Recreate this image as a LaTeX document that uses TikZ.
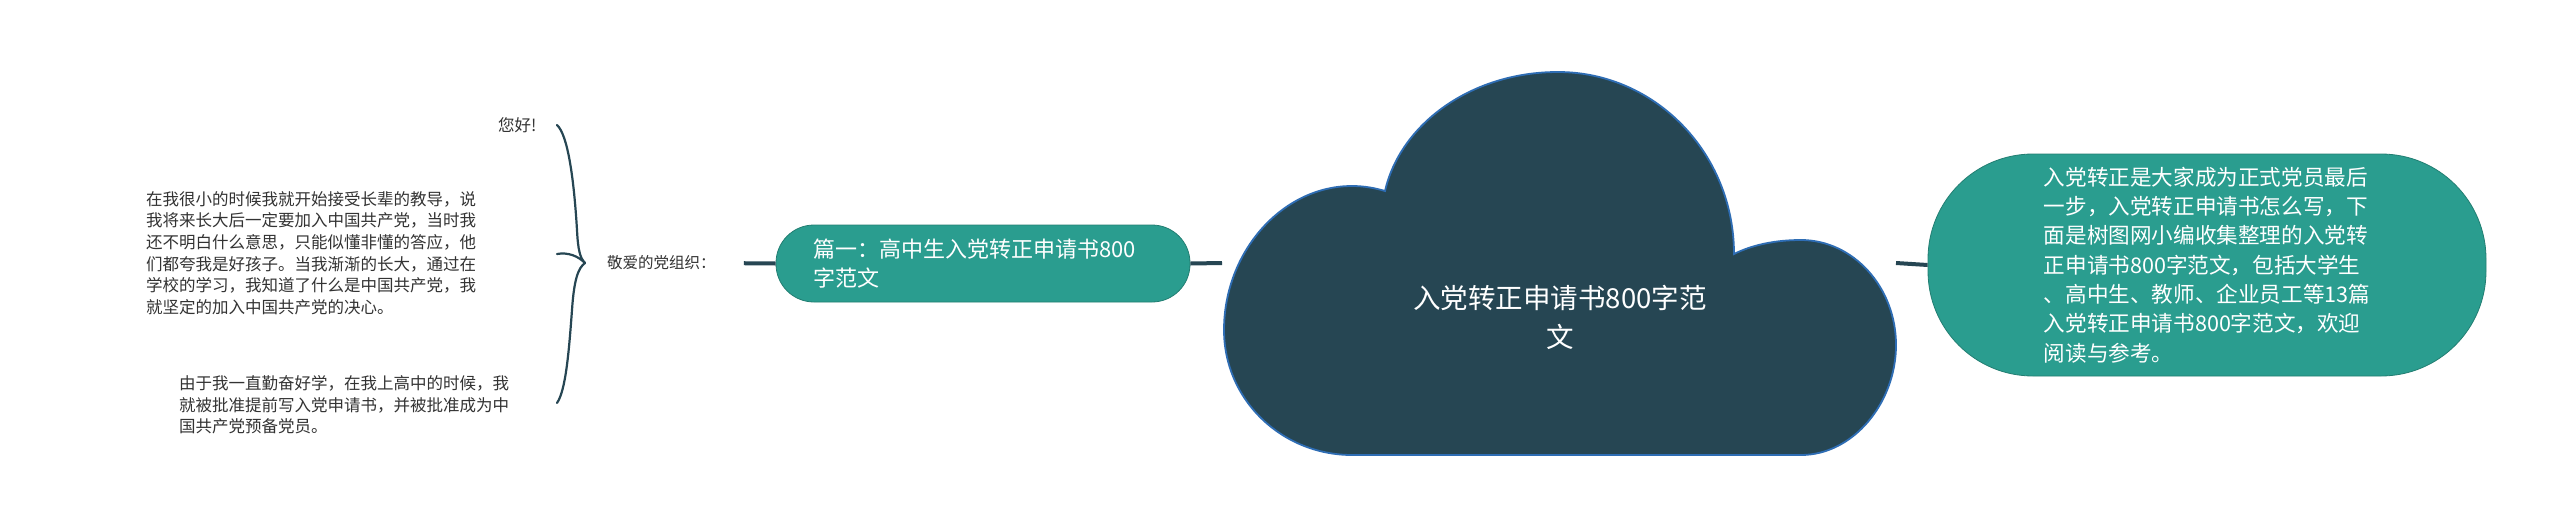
\documentclass[tikz,border=0pt]{standalone}
\usepackage{fontspec}
\setmainfont{Noto Sans CJK SC}
\definecolor{cloudc}{HTML}{264653}
\definecolor{tealc}{HTML}{2A9D8F}
\definecolor{edgeblue}{HTML}{2E6DB4}
\definecolor{txtgray}{HTML}{333333}
\tikzset{
  conn/.style={draw=cloudc, line width=4pt},
  pill/.style={fill=tealc, draw=tealc!80!black, line width=0.8pt, text=white, align=left},
  small/.style={text=txtgray, inner sep=0pt, align=left, font=\fontsize{16.5}{21.6}\selectfont},
}
\begin{document}
\begin{tikzpicture}[x=1pt,y=-1pt]
\useasboundingbox[fill=white] (0,0) rectangle (2560,528);
% cloud
\draw[fill=cloudc, draw=edgeblue, line width=1.8pt]
  (1352,455) .. controls (1282,455) and (1224,400) .. (1224,330)
  .. controls (1224,252) and (1282,186) .. (1352,186)
  .. controls (1364,186) and (1375,188) .. (1385,191)
  .. controls (1400,125) and (1470,72) .. (1558,72)
  .. controls (1655,72) and (1734,153) .. (1734,254)
  .. controls (1752,245) and (1775,240) .. (1801,240)
  .. controls (1853,240) and (1896,287) .. (1896,345)
  .. controls (1896,403) and (1853,455) .. (1801,455)
  -- cycle;
\node (center) [text=white, align=center, inner sep=0pt, font=\fontsize{27.5}{39}\selectfont] at (1560,317) {入党转正申请书800字范\\文};
\coordinate (cloudL) at (1222,263);
\coordinate (cloudR) at (1896,263);
% right node
\node (intro) [pill, rounded corners=105pt, minimum width=558pt, minimum height=222pt, inner sep=0pt,
  font=\fontsize{21.6}{29.3}\selectfont] at (2207,265)
  {入党转正是大家成为正式党员最后\\一步，入党转正申请书怎么写，下\\面是树图网小编收集整理的入党转\\正申请书800字范文，包括大学生\\、高中生、教师、企业员工等13篇\\入党转正申请书800字范文，欢迎\\阅读与参考。};
% left node
\node (pian) [pill, rounded corners=38pt, minimum width=414pt, minimum height=77pt, inner sep=0pt,
  text width=340pt, font=\fontsize{22}{29}\selectfont] at (983,263.5)
  {篇一：高中生入党转正申请书800\\字范文};
\node (jing) [small, anchor=west, font=\fontsize{15.5}{20}\selectfont] at (607,263) {敬爱的党组织：};
% connectors
\draw[conn] (cloudR) -- (intro.west);
\draw[conn] (pian.east) -- (cloudL);
\draw[conn, shorten <=28pt] (jing.east) -- (pian.west);
% leaf texts
\node (hello) [small, anchor=west] at (498,125) {您好!};
\node (para1) [small, anchor=west] at (146,253)
  {在我很小的时候我就开始接受长辈的教导，说\\我将来长大后一定要加入中国共产党，当时我\\还不明白什么意思，只能似懂非懂的答应，他\\们都夸我是好孩子。当我渐渐的长大，通过在\\学校的学习，我知道了什么是中国共产党，我\\就坚定的加入中国共产党的决心。};
\node (para2) [small, anchor=west] at (179,405)
  {由于我一直勤奋好学，在我上高中的时候，我\\就被批准提前写入党申请书，并被批准成为中\\国共产党预备党员。};
% brace
\draw[cloudc, line width=2.2pt, line cap=round, line join=round]
  (557,125) .. controls (568,135) and (574,180) .. (577,230)
  .. controls (578,250) and (580,258) .. (585,263)
  .. controls (578,268) and (574,280) .. (572,310)
  .. controls (569,350) and (566,390) .. (557,403);
\draw[cloudc, line width=2.2pt, line cap=round]
  (557,254) .. controls (568,252) and (578,256) .. (585,263);
\end{tikzpicture}
\end{document}
